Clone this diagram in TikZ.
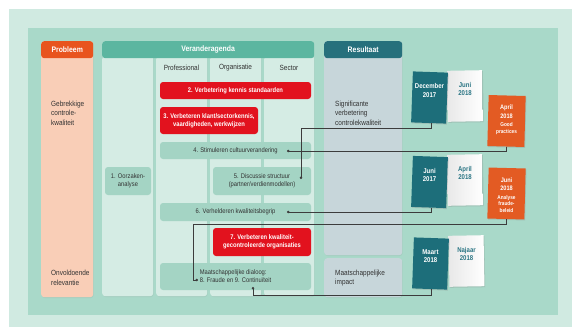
\documentclass[tikz,border=0pt]{standalone}
\usepackage{fontspec}
\setmainfont{Liberation Sans}[FakeStretch=0.86]
\usepackage{xcolor}
\usepackage{tikz}
\usetikzlibrary{arrows.meta, positioning, shadows}
\definecolor{outerbg}{RGB}{208,234,225}
\definecolor{innerbg}{RGB}{169,217,201}
\definecolor{colbg}{RGB}{213,236,228}
\definecolor{boxmint}{RGB}{164,212,196}
\definecolor{agendateal}{RGB}{92,182,160}
\definecolor{boxred}{RGB}{226,18,30}
\definecolor{probhead}{RGB}{232,84,30}
\definecolor{peach}{RGB}{249,206,183}
\definecolor{resulthead}{RGB}{38,112,124}
\definecolor{resultbg}{RGB}{199,214,218}
\definecolor{petrol}{RGB}{29,110,122}
\definecolor{rust}{RGB}{227,91,35}
\definecolor{papertext}{RGB}{42,117,132}
\definecolor{textgray}{RGB}{50,50,50}
\definecolor{linegray}{RGB}{60,60,60}
\newcommand{\cardtext}[2]{\parbox[c][45pt][t]{31pt}{\vspace*{#1}\centering #2}}

\begin{document}
\begin{tikzpicture}[x=1pt, y=-1pt,
        column/.style={rounded corners=3pt, fill=colbg, inner sep=0pt, drop shadow={opacity=0.12, shadow xshift=0.5pt, shadow yshift=-0.8pt}},
        header/.style={rounded corners=3pt, inner sep=0pt, minimum height=17pt, text=white, font=\fontsize{8}{9}\selectfont\bfseries},
        sidetext/.style={align=left, inner sep=0pt, text=textgray, font=\fontsize{7.5}{9.5}\selectfont},
        subhead/.style={inner sep=0pt, text=textgray, font=\fontsize{7.5}{9}\selectfont},
        action/.style={rounded corners=3pt, fill=boxmint, inner sep=0pt, align=center, text=textgray, font=\fontsize{6.75}{8}\selectfont},
        redaction/.style={action, fill=boxred, text=white, font=\fontsize{6.75}{8}\selectfont\bfseries},
        card/.style={inner sep=0pt, minimum width=35pt, minimum height=51pt, drop shadow={opacity=0.25, shadow xshift=0.8pt, shadow yshift=-1pt}},
        tealcard/.style={card, fill=petrol, rotate=-2},
        whitecard/.style={card, left color=black!9, right color=white, rotate=1},
        orangecard/.style={card, fill=rust, minimum width=37pt, rotate=-1.5},
        cardlabel/.style={inner sep=0pt, font=\fontsize{7}{8.5}\selectfont\bfseries},
        link/.style={draw=linegray, line width=0.6pt, -{Circle[length=2.4pt]}}
    ]
        \useasboundingbox (0,0) rectangle (572,327);
        \fill[outerbg] (9,9) rectangle (572,327);
        \fill[innerbg] (28,28) rectangle (558,315);

        % probleem
        \node[column, fill=peach, minimum width=52pt, minimum height=256pt, anchor=north west] (probcol) at (41,41) {};
        \node[header, fill=probhead, minimum width=52pt, anchor=north] (probleem) at (probcol.north) {Probleem};
        \node[sidetext, anchor=west] (gebrekkig) at (51,113) {Gebrekkige\\controle-\\kwaliteit};
        \node[sidetext, anchor=west] (onvoldoende) at (51,278) {Onvoldoende\\relevantie};

        % veranderagenda
        \node[column, minimum width=51pt, minimum height=240pt, anchor=north west] (agcol1) at (102,56) {};
        \node[column, minimum width=51pt, minimum height=240pt, anchor=north west] (agcol2) at (156,56) {};
        \node[column, minimum width=51pt, minimum height=240pt, anchor=north west] (agcol3) at (210,56) {};
        \node[column, minimum width=50pt, minimum height=240pt, anchor=north west] (agcol4) at (264,56) {};
        \node[header, fill=agendateal, minimum width=212pt, anchor=north west] (agenda) at (102,41) {Veranderagenda};
        \node[subhead] (prof) at (181.5,68) {Professional};
        \node[subhead] (org) at (235.5,68) {Organisatie};
        \node[subhead] (sector) at (289,68) {Sector};

        \node[redaction, minimum width=151pt, minimum height=17pt] (kennis) at (235.5,90.5) {2. Verbetering kennis standaarden};
        \node[redaction, minimum width=98pt, minimum height=27pt] (klant) at (209,120.5) {3. Verbeteren klant/sectorkennis,\\vaardigheden, werkwijzen};
        \node[action, minimum width=151pt, minimum height=17pt] (cultuur) at (235.5,150.5) {4. Stimuleren cultuurverandering};
        \node[action, minimum width=46pt, minimum height=28pt] (oorzaak) at (128,181) {1. Oorzaken-\\analyse};
        \node[action, minimum width=98pt, minimum height=28pt] (structuur) at (262,181) {5. Discussie structuur\\(partner/verdienmodellen)};
        \node[action, minimum width=151pt, minimum height=18pt] (begrip) at (235.5,212) {6. Verhelderen kwaliteitsbegrip};
        \node[redaction, minimum width=98pt, minimum height=28pt] (kwaliteit) at (262,242) {7. Verbeteren kwaliteit-\\gecontroleerde organisaties};
        \node[action, minimum width=151pt, minimum height=27pt, align=left] (dialoog) at (235.5,276.5) {Maatschappelijke dialoog:\\8. Fraude en 9. Continuïteit};

        % resultaat
        \node[column, fill=resultbg, minimum width=78pt, minimum height=214pt, anchor=north west] (rescol) at (324,41) {};
        \node[header, fill=resulthead, minimum width=78pt, anchor=north] (resultaat) at (rescol.north) {Resultaat};
        \node[column, fill=resultbg, minimum width=78pt, minimum height=39pt, anchor=north west] (impactcol) at (324,258) {};
        \node[sidetext, anchor=west] (significant) at (335,113) {Significante\\verbetering\\controlekwaliteit};
        \node[sidetext, anchor=west] (impact) at (335,278) {Maatschappelijke\\impact};

        % kaartjes
        \node[whitecard] (jun18a) at (465,96) {};
        \node[cardlabel, text=papertext] (jun18atext) at (jun18a) {\cardtext{8.5pt}{Juni\\2018}};
        \node[tealcard] (dec17) at (429.5,97.5) {};
        \node[cardlabel, text=white] (dec17text) at (dec17) {\cardtext{8.5pt}{December\\2017}};
        \node[orangecard] (apr18gp) at (506.5,121) {};
        \node[cardlabel, text=white, font=\fontsize{6.5}{8.5}\selectfont\bfseries] (apr18gptext) at (apr18gp) {\cardtext{6.5pt}{April\\2018\par\vspace{2pt}\fontsize{5.5}{6.5}\selectfont Good\\practices}};
        \node[whitecard] (apr18) at (465,180) {};
        \node[cardlabel, text=papertext] (apr18text) at (apr18) {\cardtext{8.5pt}{April\\2018}};
        \node[tealcard] (jun17) at (429.5,182) {};
        \node[cardlabel, text=white] (jun17text) at (jun17) {\cardtext{8.5pt}{Juni\\2017}};
        \node[orangecard] (jun18fb) at (506.5,193.5) {};
        \node[cardlabel, text=white, font=\fontsize{6.5}{8.5}\selectfont\bfseries] (jun18fbtext) at (jun18fb) {\cardtext{6.5pt}{Juni\\2018\par\vspace{2pt}\fontsize{5.5}{6.5}\selectfont Analyse\\fraude-\\beleid}};
        \node[whitecard] (naj18) at (466.5,261) {};
        \node[cardlabel, text=papertext] (naj18text) at (naj18) {\cardtext{8.5pt}{Najaar\\2018}};
        \node[tealcard] (mrt18) at (430.5,263.5) {};
        \node[cardlabel, text=white] (mrt18text) at (mrt18) {\cardtext{8.5pt}{Maart\\2018}};

        % verbindingen
        \coordinate (cultuurdot) at (287,151);
        \coordinate (structuurdot) at (301,179);
        \coordinate (begripdot) at (287,212);
        \coordinate (fraudebend) at (193,224);
        \coordinate (fraudedot) at (198,280);
        \coordinate (continuiteitdot) at (253,287);

        \draw[link] ([xshift=3pt]dec17.south) -- ++(0,5) -| (structuurdot);
        \draw[link] (apr18gp.south) |- (cultuurdot);
        \draw[link] ([xshift=3pt]jun17.south) |- (begripdot);
        \draw[link] (jun18fb.south) |- (fraudebend) |- (fraudedot);
        \draw[link] ([xshift=2pt]mrt18.south) -- ++(0,6) -| (continuiteitdot);
    \end{tikzpicture}
\end{document}
